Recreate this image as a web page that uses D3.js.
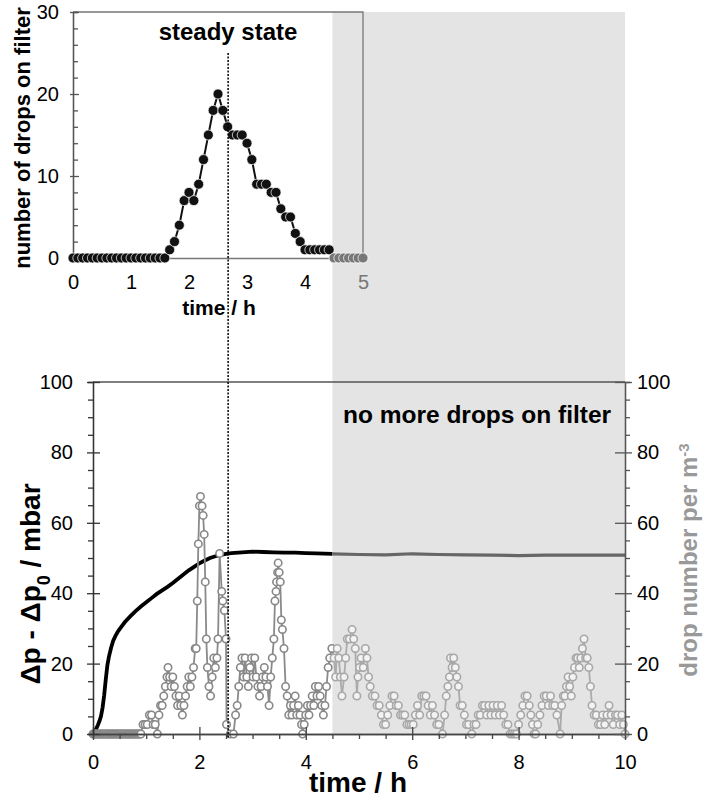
<!DOCTYPE html>
<html>
<head>
<meta charset="utf-8">
<script src="https://cdn.jsdelivr.net/npm/d3@7"></script>
<style>
  body { margin: 0; background: #fff; }
  svg { display: block; font-family: "Liberation Sans", Arial, sans-serif; }
</style>
</head>
<body>
<div class="container"></div>
<script>
// inset: drops counted on the filter, one value every 5 min
const filterStep = 1 / 12; // h
const dropsOnFilter = [
  0, 0, 0, 0, 0, 0, 0, 0, 0, 0, 0, 0, 0, 0, 0, 0, 0, 0, 0, 0,
  1, 2, 4, 7, 8, 7, 9, 12, 15, 18, 20, 18, 16, 15, 15, 15, 14, 12, 9, 9,
  9, 8, 8, 6, 5, 5, 3, 2, 1, 1, 1, 1, 1, 1,
  0, 0, 0, 0, 0, 0, 0
];

// main chart: pressure drop (mbar) over time (h)
const pressureTime = [0, 0.03, 0.06, 0.09, 0.12, 0.15, 0.18, 0.21, 0.24, 0.27, 0.3, 0.34, 0.38, 0.42, 0.46, 0.5,
  0.6, 0.7, 0.8, 0.9, 1.0, 1.1, 1.2, 1.3, 1.4, 1.5, 1.6, 1.7, 1.8, 1.9, 2.0, 2.1, 2.2, 2.3, 2.4, 2.5,
  2.6, 2.8, 3.0, 3.2, 3.4, 3.6, 3.8, 4.0, 4.2, 4.5, 5.0, 5.5, 6.0, 6.5, 7.0, 7.5, 8.0, 8.5, 9.0, 9.5, 10];
const pressureValue = [0, 0.8, 1.5, 2.5, 3.6, 5, 7.5, 11, 15.5, 19.5, 22, 24.5, 26.5, 27.8, 28.9, 29.8,
  31.8, 33.4, 34.9, 36.2, 37.4, 38.6, 39.8, 40.8, 41.8, 42.9, 44.1, 45.3, 46.5, 47.5, 48.5, 49.3, 50.0, 50.5, 50.9, 51.2,
  51.4, 51.6, 51.8, 51.7, 51.6, 51.5, 51.5, 51.4, 51.3, 51.2, 51.0, 50.9, 51.2, 51.0, 50.9, 50.8, 50.7, 50.8, 50.8, 50.8, 50.8];

// main chart: drop number per m^3 [time h, value]
const dropsPerM3 = [
  [0, 0], [0.02, 0], [0.04, 0], [0.06, 0], [0.08, 0], [0.1, 0], [0.12, 0], [0.14, 0], [0.16, 0], [0.18, 0],
  [0.2, 0], [0.22, 0], [0.24, 0], [0.26, 0], [0.28, 0], [0.3, 0], [0.32, 0], [0.34, 0], [0.36, 0], [0.38, 0],
  [0.4, 0], [0.42, 0], [0.44, 0], [0.46, 0], [0.48, 0], [0.5, 0], [0.52, 0], [0.54, 0], [0.56, 0], [0.58, 0],
  [0.6, 0], [0.62, 0], [0.64, 0], [0.66, 0], [0.68, 0], [0.7, 0], [0.72, 0], [0.74, 0], [0.76, 0], [0.78, 0],
  [0.8, 0], [0.82, 0], [0.84, 0], [0.86, 0], [0.88, 0], [0.9, 0],
  [0.94, 2.7], [0.98, 2.7], [1.02, 2.7], [1.06, 5.4], [1.10, 5.4], [1.13, 2.7], [1.17, 2.7], [1.21, 0],
  [1.24, 5.4], [1.27, 8.1], [1.30, 8.1], [1.33, 10.8], [1.36, 13.5], [1.39, 16.2], [1.41, 18.9], [1.44, 16.2],
  [1.47, 13.5], [1.50, 16.2], [1.53, 13.5], [1.56, 10.8], [1.59, 8.1], [1.62, 10.8], [1.65, 8.1], [1.68, 5.4],
  [1.71, 8.1], [1.74, 10.8], [1.77, 13.5], [1.80, 16.2], [1.83, 13.5], [1.86, 16.2], [1.89, 18.9], [1.92, 24.3],
  [1.94, 24.3], [1.96, 37.8], [1.98, 54], [2.00, 64.8], [2.02, 67.5], [2.05, 64.8], [2.07, 62.1], [2.09, 56.7],
  [2.11, 43.2], [2.13, 27], [2.15, 18.9], [2.18, 13.5], [2.21, 10.8], [2.24, 16.2], [2.27, 21.6], [2.30, 18.9],
  [2.33, 21.6], [2.35, 27], [2.38, 51.3], [2.42, 40.5], [2.44, 37.8], [2.47, 35.1], [2.50, 27], [2.51, 2.7],
  [2.58, 0], [2.64, 0], [2.68, 5.4], [2.71, 8.1], [2.74, 13.5], [2.77, 18.9], [2.80, 21.6], [2.83, 16.2],
  [2.86, 21.6], [2.89, 16.2], [2.92, 13.5], [2.95, 18.9], [2.98, 21.6], [3.01, 16.2], [3.04, 21.6], [3.07, 16.2],
  [3.10, 13.5], [3.13, 10.8], [3.16, 13.5], [3.19, 16.2], [3.22, 18.9], [3.25, 16.2], [3.28, 13.5], [3.31, 8.1],
  [3.34, 16.2], [3.37, 21.6], [3.40, 27], [3.42, 37.8], [3.44, 40.5], [3.45, 43.2], [3.47, 45.9], [3.48, 48.6],
  [3.50, 45.9], [3.52, 43.2], [3.54, 32.4], [3.56, 29.7], [3.59, 24.3], [3.62, 13.5], [3.65, 10.8], [3.68, 5.4],
  [3.71, 8.1], [3.74, 5.4], [3.77, 8.1], [3.80, 10.8], [3.83, 5.4], [3.86, 8.1], [3.89, 5.4], [3.92, 2.7],
  [3.94, 0], [3.97, 2.7], [4.00, 5.4], [4.03, 8.1], [4.06, 5.4], [4.09, 8.1], [4.12, 10.8], [4.15, 8.1],
  [4.18, 13.5], [4.21, 10.8], [4.24, 13.5], [4.27, 10.8], [4.30, 8.1], [4.33, 5.4], [4.36, 8.1], [4.39, 13.5],
  [4.42, 18.9], [4.45, 21.6], [4.49, 24.3],
  [4.53, 21.6], [4.56, 16.2], [4.59, 24.3], [4.62, 21.6], [4.65, 16.2], [4.68, 10.8], [4.72, 16.2], [4.75, 21.6],
  [4.78, 27], [4.82, 27], [4.87, 29.7], [4.90, 27], [4.93, 24.3], [4.96, 10.8], [4.98, 16.2], [5.01, 18.9],
  [5.04, 21.6], [5.08, 18.9], [5.12, 24.3], [5.15, 21.6], [5.18, 16.2], [5.21, 13.5], [5.25, 10.8], [5.30, 10.8],
  [5.34, 8.1], [5.38, 8.1], [5.42, 5.4], [5.46, 2.7], [5.50, 2.7], [5.54, 5.4], [5.58, 8.1], [5.62, 10.8],
  [5.66, 10.8], [5.70, 8.1], [5.74, 8.1], [5.78, 5.4], [5.82, 5.4], [5.86, 5.4], [5.90, 2.7], [5.94, 2.7],
  [5.98, 2.7], [6.02, 2.7], [6.06, 5.4], [6.10, 8.1], [6.14, 5.4], [6.18, 10.8], [6.22, 10.8], [6.26, 10.8],
  [6.30, 8.1], [6.34, 5.4], [6.38, 8.1], [6.42, 5.4], [6.46, 2.7], [6.50, 2.7], [6.57, 0], [6.61, 5.4],
  [6.64, 10.8], [6.67, 13.5], [6.70, 16.2], [6.72, 21.6], [6.75, 18.9], [6.78, 21.6], [6.81, 18.9], [6.84, 16.2],
  [6.87, 13.5], [6.90, 8.1], [6.94, 8.1], [6.98, 5.4], [7.02, 2.7], [7.06, 2.7], [7.12, 0], [7.16, 2.7],
  [7.20, 2.7], [7.24, 5.4], [7.28, 5.4], [7.32, 8.1], [7.36, 8.1], [7.40, 5.4], [7.44, 8.1], [7.48, 5.4],
  [7.52, 8.1], [7.56, 5.4], [7.60, 8.1], [7.64, 5.4], [7.68, 8.1], [7.72, 5.4], [7.76, 2.7], [7.80, 2.7],
  [7.84, 0], [7.88, 0], [7.92, 0], [7.96, 0], [8.00, 2.7], [8.04, 5.4], [8.08, 8.1], [8.12, 10.8],
  [8.16, 10.8], [8.20, 8.1], [8.23, 5.4], [8.26, 2.7], [8.29, 0], [8.32, 0], [8.36, 2.7], [8.40, 5.4],
  [8.44, 8.1], [8.48, 10.8], [8.52, 10.8], [8.56, 8.1], [8.60, 10.8], [8.64, 8.1], [8.68, 8.1], [8.72, 5.4],
  [8.78, 0], [8.81, 8.1], [8.84, 10.8], [8.87, 10.8], [8.90, 13.5], [8.93, 16.2], [8.96, 13.5], [8.99, 10.8],
  [9.02, 16.2], [9.05, 18.9], [9.08, 21.6], [9.11, 21.6], [9.14, 18.9], [9.17, 21.6], [9.20, 24.3], [9.23, 27],
  [9.26, 21.6], [9.29, 21.6], [9.32, 18.9], [9.35, 13.5], [9.38, 8.1], [9.42, 5.4], [9.46, 5.4], [9.50, 2.7],
  [9.54, 2.7], [9.58, 5.4], [9.62, 2.7], [9.66, 5.4], [9.70, 8.1], [9.74, 5.4], [9.78, 2.7], [9.82, 5.4],
  [9.86, 5.4], [9.90, 2.7], [9.94, 5.4], [9.97, 2.7], [10.0, 0]
];

const insetXTicks = [0, 1, 2, 3, 4, 5];
const insetYTicks = [0, 10, 20, 30];
const mainXTicks = [0, 2, 4, 6, 8, 10];
const mainYTicks = [0, 20, 40, 60, 80, 100];
const noDropsFrom = 4.5;   // h, grey zone starts
const steadyState = 2.54;  // h, dotted marker

const width = 703;
const height = 798;

const svg = d3.select(".container")
  .append("svg")
  .attr("width", width)
  .attr("height", height);

/* scales */
const xInset = d3.scaleLinear().domain([0, 5]).range([73, 363]);
const yInset = d3.scaleLinear().domain([0, 30]).range([258, 12]);
const x = d3.scaleLinear().domain([0, 10]).range([93, 625]);
const y = d3.scaleLinear().domain([0, 100]).range([734, 382]);
const y2 = d3.scaleLinear().domain([0, 100]).range([734, 382]);
const fmt = d3.format("d");

// grey zone, across both charts
svg.append("rect")
  .attr("x", x(noDropsFrom))
  .attr("y", yInset(30))
  .attr("width", x(10) - x(noDropsFrom))
  .attr("height", y(0) - yInset(30))
  .attr("fill", "#e4e4e4");

const styleAxis = (g, color) => {
  g.select(".domain").attr("stroke", color).attr("stroke-width", 1.3);
  g.selectAll(".tick line").attr("stroke", color).attr("stroke-width", 1.3);
  g.selectAll(".tick text")
    .attr("fill", "#000")
    .style("font-size", "20px")
    .style("font-family", "'Liberation Sans', Arial, sans-serif");
};

/* ---------- inset ---------- */
const inset = svg.append("g");

inset.append("path")
  .attr("d", `M${xInset(0)},${yInset(30)}H${xInset(5)}V${yInset(0)}`)
  .attr("fill", "none")
  .attr("stroke", "#777")
  .attr("stroke-width", 1.3);

inset.append("g")
  .attr("transform", `translate(0,${yInset(0)})`)
  .call(d3.axisBottom(xInset).tickValues(insetXTicks).tickFormat(fmt).tickSize(0).tickPadding(17))
  .call(g => styleAxis(g, "#777"))
  .call(g => g.selectAll(".tick text").filter(d => d >= noDropsFrom).attr("fill", "#777"));

inset.append("g")
  .attr("transform", `translate(${xInset(0)},0)`)
  .call(d3.axisLeft(yInset).tickValues(d3.range(2, 30, 2).filter(v => v % 10)).tickSize(-5).tickFormat(""))
  .call(g => styleAxis(g, "#555"));

inset.append("g")
  .attr("transform", `translate(${xInset(0)},0)`)
  .call(d3.axisLeft(yInset).tickValues(insetYTicks).tickFormat(fmt).tickSize(3).tickPadding(11).tickSizeOuter(0))
  .call(g => g.selectAll(".tick").append("line").attr("x2", 6))
  .call(g => styleAxis(g, "#555"));

const filterData = dropsOnFilter.map((v, i) => ({ t: i * filterStep, v }));
const insetLine = d3.line().x(d => xInset(d.t)).y(d => yInset(d.v));

inset.append("path")
  .datum(filterData.filter(d => d.t <= noDropsFrom))
  .attr("fill", "none")
  .attr("stroke", "#111")
  .attr("stroke-width", 2)
  .attr("d", insetLine);

inset.append("path")
  .datum(filterData.filter(d => d.t >= noDropsFrom - filterStep))
  .attr("fill", "none")
  .attr("stroke", "#777")
  .attr("stroke-width", 2)
  .attr("d", insetLine);

inset.selectAll("circle")
  .data(filterData)
  .join("circle")
  .attr("cx", d => xInset(d.t))
  .attr("cy", d => yInset(d.v))
  .attr("r", 5)
  .attr("fill", d => (d.t >= noDropsFrom ? "#777" : "#111"))
  .attr("stroke", "#fff")
  .attr("stroke-width", 0.7);

/* ---------- main chart ---------- */
const main = svg.append("g");

main.append("line")
  .attr("x1", x(0)).attr("x2", x(10))
  .attr("y1", y(100)).attr("y2", y(100))
  .attr("stroke", "#555")
  .attr("stroke-width", 1.3);

const pressure = pressureTime.map((t, i) => ({ t, v: pressureValue[i] }));
const pLine = d3.line().x(d => x(d.t)).y(d => y(d.v));

main.append("path")
  .datum(pressure.filter(d => d.t <= noDropsFrom))
  .attr("fill", "none")
  .attr("stroke", "#000")
  .attr("stroke-width", 3.8)
  .attr("d", pLine);

main.append("path")
  .datum(pressure.filter(d => d.t >= noDropsFrom))
  .attr("fill", "none")
  .attr("stroke", "#666")
  .attr("stroke-width", 3.2)
  .attr("d", pLine);

const drops = dropsPerM3.map(d => ({ t: d[0], v: d[1] }));
const before = drops.filter(d => d.t < noDropsFrom);
const after = [before[before.length - 1]].concat(drops.filter(d => d.t >= noDropsFrom));
const dLine = d3.line().x(d => x(d.t)).y(d => y2(d.v));

main.append("path")
  .datum(before)
  .attr("fill", "none")
  .attr("stroke", "#8a8a8a")
  .attr("stroke-width", 1.8)
  .attr("d", dLine);

main.append("path")
  .datum(after)
  .attr("fill", "none")
  .attr("stroke", "#ababab")
  .attr("stroke-width", 1.8)
  .attr("d", dLine);

main.append("g")
  .selectAll("circle")
  .data(drops)
  .join("circle")
  .attr("cx", d => x(d.t))
  .attr("cy", d => y2(d.v))
  .attr("r", 3.7)
  .attr("fill", d => (d.t >= noDropsFrom ? "#f3f3f3" : "#fff"))
  .attr("stroke", d => (d.t >= noDropsFrom ? "#a8a8a8" : "#888"))
  .attr("stroke-width", 1.6);

// bottom axis
main.append("g")
  .attr("transform", `translate(0,${y(0)})`)
  .call(d3.axisBottom(x).tickValues(d3.range(1, 10, 1).filter(v => v % 2)
    .concat(d3.range(0.5, 10, 1))).tickSize(5).tickFormat(""))
  .call(g => styleAxis(g, "#444"));

main.append("g")
  .attr("transform", `translate(0,${y(0)})`)
  .call(d3.axisBottom(x).tickValues(mainXTicks).tickFormat(fmt).tickSize(6).tickPadding(15).tickSizeOuter(0))
  .call(g => g.selectAll(".tick").append("line").attr("y2", -7))
  .call(g => styleAxis(g, "#444"));

// left axis
main.append("g")
  .attr("transform", `translate(${x(0)},0)`)
  .call(d3.axisLeft(y).tickValues(d3.range(5, 100, 5).filter(v => v % 20)).tickSize(5).tickFormat(""))
  .call(g => styleAxis(g, "#333"));

main.append("g")
  .attr("transform", `translate(${x(0)},0)`)
  .call(d3.axisLeft(y).tickValues(mainYTicks).tickFormat(fmt).tickSize(6).tickPadding(14).tickSizeOuter(0))
  .call(g => g.selectAll(".tick").append("line").attr("x2", 7))
  .call(g => styleAxis(g, "#333"));

// right axis
main.append("g")
  .attr("transform", `translate(${x(10)},0)`)
  .call(d3.axisRight(y2).tickValues(d3.range(5, 100, 5).filter(v => v % 20)).tickSize(5).tickFormat(""))
  .call(g => styleAxis(g, "#555"));

main.append("g")
  .attr("transform", `translate(${x(10)},0)`)
  .call(d3.axisRight(y2).tickValues(mainYTicks).tickFormat(fmt).tickSize(7).tickPadding(5).tickSizeOuter(0))
  .call(g => g.selectAll(".tick").append("line").attr("x2", -10))
  .call(g => styleAxis(g, "#555"));

// steady state marker
svg.append("line")
  .attr("x1", x(steadyState)).attr("x2", x(steadyState))
  .attr("y1", yInset(25)).attr("y2", y(0) + 4)
  .attr("stroke", "#000")
  .attr("stroke-width", 1.5)
  .attr("stroke-dasharray", "2,1.5");

/* ---------- texts ---------- */
const bold = (sel, size) => sel
  .attr("font-weight", "bold")
  .style("font-size", `${size}px`);

svg.append("text")
  .attr("x", 228).attr("y", 40)
  .attr("text-anchor", "middle")
  .call(bold, 24)
  .text("steady state");

svg.append("text")
  .attr("x", 477).attr("y", 423)
  .attr("text-anchor", "middle")
  .call(bold, 24.5)
  .text("no more drops on filter");

svg.append("text")
  .attr("x", 219).attr("y", 315)
  .attr("text-anchor", "middle")
  .call(bold, 21)
  .text("time / h");

svg.append("text")
  .attr("x", 358).attr("y", 792)
  .attr("text-anchor", "middle")
  .call(bold, 28)
  .text("time / h");

svg.append("text")
  .attr("transform", "translate(30,138) rotate(-90)")
  .attr("text-anchor", "middle")
  .call(bold, 22)
  .text("number of drops on filter");

const dpLabel = svg.append("text")
  .attr("transform", "translate(40,584) rotate(-90)")
  .attr("text-anchor", "middle")
  .call(bold, 28);
dpLabel.append("tspan").text("Δp - Δp");
dpLabel.append("tspan").attr("baseline-shift", "sub").style("font-size", "18px").text("0");
dpLabel.append("tspan").text(" / mbar");

const dnLabel = svg.append("text")
  .attr("transform", "translate(697,560) rotate(-90)")
  .attr("text-anchor", "middle")
  .attr("fill", "#999")
  .call(bold, 24);
dnLabel.append("tspan").text("drop number per m");
dnLabel.append("tspan").attr("baseline-shift", "super").style("font-size", "15px").text("-3");
</script>
</body>
</html>
